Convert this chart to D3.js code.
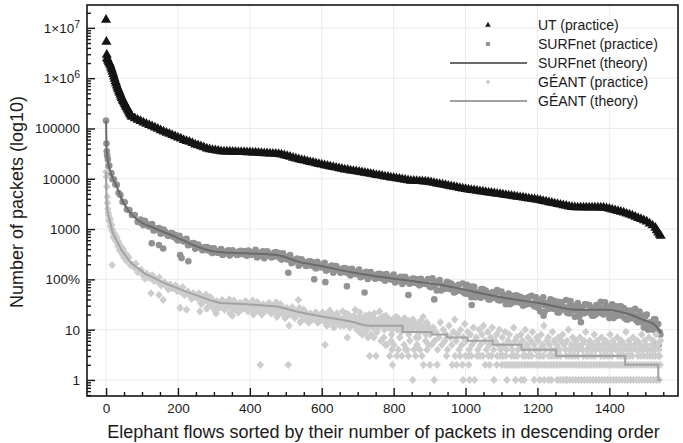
<!DOCTYPE html>
<html>
<head>
<meta charset="utf-8">
<script src="https://cdn.jsdelivr.net/npm/d3@7"></script>
<style>
  body { margin: 0; background: #fff; }
  text { font-family: "Liberation Sans", Arial, Helvetica, sans-serif; fill: #1a1a1a; }
</style>
</head>
<body>
<svg id="chart" width="683" height="443"></svg>
<script>
// ---- Axis ticks and labels ----
const xMajorTicks = [0, 200, 400, 600, 800, 1000, 1200, 1400];
const yMajorTicks = [1, 10, 100, 1000, 10000, 100000, 1000000, 10000000];
const yTickLabels = ["1", "10", "100%", "1000", "10000", "100000", "1×10^6", "1×10^7"];
const seriesNames = ["UT (practice)", "SURFnet (practice)", "SURFnet (theory)", "GÉANT (practice)", "GÉANT (theory)"];

// ---- UT (practice): [flow rank, packets] ----
const utPractice = [[0,14400000],[1,5300000],[2,2900000],[3,2500000],[4,2400000],[6,2200000],[8,2070000],[10,1960000],[12,1810000],[14,1630000],[16,1480000],[18,1330000],[20,1200000],[22,1080000],[24,970000],[26,870000],[28,790000],[30,710000],[32,650000],[34,600000],[36,550000],[38,510000],[40,470000],[42,430000],[44,400000],[46,370000],[48,350000],[50,330000],[52,310000],[54,290000],[56,270000],[58,260000],[60,240000],[62,230000],[64,215000],[66,200000],[68,190000],[70,180000],[72,170000],[80,159000],[88,149000],[96,140000],[104,131000],[112,124000],[120,117000],[128,110000],[136,104000],[144,98000],[152,92000],[160,87000],[168,82000],[176,78000],[184,74000],[192,70000],[200,66000],[208,63000],[216,59000],[224,56000],[232,54000],[240,51000],[248,48000],[256,46000],[264,44000],[272,42000],[280,40000],[288,38500],[296,37400],[304,36600],[312,35800],[320,35100],[328,34900],[336,34700],[344,34600],[352,34400],[360,34300],[368,34100],[376,34000],[384,33800],[392,33700],[400,33500],[408,33200],[416,33000],[424,32700],[432,32500],[440,32200],[448,32000],[456,31700],[464,31500],[472,31300],[480,31000],[488,30300],[496,29200],[504,28200],[512,27200],[520,26200],[528,25300],[536,24400],[544,23600],[552,22900],[560,22200],[568,21500],[576,20900],[584,20300],[592,19600],[600,19100],[608,18500],[616,18000],[624,17500],[632,17100],[640,16600],[648,16100],[656,15700],[664,15300],[672,15000],[680,14600],[688,14300],[696,14000],[704,13700],[712,13400],[720,13100],[728,12800],[736,12500],[744,12200],[752,11900],[760,11700],[768,11400],[776,11100],[784,10900],[792,10600],[800,10400],[808,10200],[816,9930],[824,9700],[832,9500],[840,9300],[848,9100],[856,9060],[864,9000],[872,8950],[880,8900],[888,8830],[896,8700],[904,8470],[912,8260],[920,8050],[928,7850],[936,7650],[944,7460],[952,7270],[960,7090],[968,6910],[976,6730],[984,6560],[992,6400],[1000,6230],[1008,6090],[1016,5980],[1024,5870],[1032,5750],[1040,5650],[1048,5540],[1056,5430],[1064,5330],[1072,5240],[1080,5140],[1088,5040],[1096,4940],[1104,4850],[1112,4750],[1120,4660],[1128,4570],[1136,4480],[1144,4390],[1152,4300],[1160,4210],[1168,4130],[1176,4050],[1184,3970],[1192,3890],[1200,3810],[1208,3710],[1216,3610],[1224,3510],[1232,3410],[1240,3320],[1248,3230],[1256,3140],[1264,3050],[1272,2970],[1280,2890],[1288,2810],[1296,2730],[1304,2700],[1312,2690],[1320,2690],[1328,2690],[1336,2680],[1344,2690],[1352,2680],[1360,2690],[1368,2680],[1376,2680],[1384,2680],[1392,2600],[1400,2520],[1408,2440],[1416,2360],[1424,2290],[1432,2210],[1440,2120],[1448,2020],[1456,1940],[1464,1850],[1472,1760],[1480,1660],[1488,1580],[1496,1490],[1504,1410],[1512,1290],[1520,1180],[1528,1060],[1532,940],[1536,850],[1540,780],[1543,730]];

// ---- SURFnet ----
const surfTheory = [[0,143000],[1,50000],[2,35000],[4,25000],[7,18700],[15,12000],[29,7200],[43,4000],[61,2400],[89,1500],[135,1040],[191,710],[256,440],[311,350],[391,330],[475,305],[540,220],[604,180],[679,140],[771,110],[864,90],[929,78],[1022,57],[1115,42],[1207,33.5],[1309,25],[1393,25],[1448,21],[1495,15.6],[1527,12.4],[1543,8.5]];

const surfPracticeHead = [[0,143000],[1,50000],[2,35000],[3,29000],[5,24300],[7,17900],[9,18400],[12,13200],[15,12900],[18,9800],[22,9700],[26,7700],[30,7600],[35,5200],[40,4750],[46,3500],[52,3400],[58,2440],[65,2400],[72,1900],[80,1910],[88,1390]];

const surfPracticeBand = [[96,1540],[104,1190],[112,1290],[120,1120],[128,1260],[136,951],[144,1030],[152,807],[160,979],[168,818],[176,733],[184,820],[192,766],[200,594],[208,644],[216,566],[224,638],[232,483],[240,522],[248,406],[256,491],[264,420],[272,384],[280,439],[288,418],[296,333],[304,371],[312,336],[320,399],[328,318],[336,363],[344,298],[352,379],[360,333],[368,313],[376,368],[384,361],[392,296],
[400,340],[408,308],[416,388],[424,286],[432,342],[440,262],[448,362],[456,305],[464,281],[472,348],[480,332],[488,247],[496,284],[504,249],[512,304],[520,218],[528,251],[536,187],[544,252],[552,208],[560,188],[568,229],[576,219],[584,165],[592,194],[600,172],[608,213],[616,155],[624,181],[632,136],[640,185],[648,152],[656,138],[664,167],[672,160],[680,120],[688,142],[696,127],[704,157],[712,115],[720,135],[728,102],[736,140],[744,116],[752,105],[760,129],[768,124],[776,94],[784,111],[792,99],[800,124],[808,91],[816,107],[824,81],[832,112],[840,93],[848,85],[856,104],[864,100],[872,76],[880,90],[888,81],[896,101],
[904,70],[912,90],[920,60],[928,97],[936,74],[944,65],[952,87],[960,83],[968,55],[976,70],[984,60],[992,83],[1000,52],[1008,67],[1016,44],[1024,71],[1032,54],[1040,47],[1048,64],[1056,60],[1064,40],[1072,51],[1080,43],[1088,61],[1096,38],[1104,49],[1112,32],[1120,52],[1128,40],[1136,35],[1144,47],[1152,45],[1160,30],[1168,39],[1176,33],[1184,47],[1192,29],[1200,38],[1208,23],[1216,44],[1224,31],[1232,26],[1240,39],[1248,37],[1256,22],[1264,31],[1272,25],[1280,39],[1288,21],[1296,30],[1304,18],[1312,34],[1320,24],[1328,21],[1336,32],[1344,31],[1352,19],[1360,27],[1368,22],[1376,36],[1384,20],[1392,29],[1400,17],[1408,32],[1416,22],[1424,19],[1432,29],[1440,27],[1448,16],[1456,21],[1464,17],[1472,26],[1480,14],[1488,19],[1496,11],[1504,20],[1512,13],[1520,11],[1528,16],[1536,13]];

const surfPracticeFill = [[100,1280],[108,1460],[116,1180],[124,1220],[132,940],[140,1020],[148,1050],[156,853],[164,889],[172,733],[180,830],[188,695],[196,638],[204,731],[212,592],[220,614],[228,476],[236,516],[244,528],[252,429],[260,451],[268,379],[276,440],[284,375],[292,353],[300,415],[308,345],[316,373],[324,306],[332,349],[340,378],[348,322],[356,353],[364,305],[372,364],[380,319],[388,309],[396,372],
[404,314],[412,355],[420,272],[428,324],[436,360],[444,291],[452,329],[460,272],[468,342],[476,285],[484,265],[492,330],[500,259],[508,283],[516,210],[524,243],[532,260],[540,205],[548,226],[556,184],[564,228],[572,188],[580,177],[588,223],[596,177],[604,197],[612,148],[620,174],[628,189],[636,150],[644,166],[652,135],[660,166],[668,137],[676,129],[684,163],[692,130],[700,145],[708,110],[716,129],[724,141],[732,113],[740,126],[748,103],[756,128],[764,106],[772,100],[780,127],[788,102],[796,114],[804,87],[812,102],[820,112],[828,90],[836,101],[844,82],[852,103],[860,86],[868,81],[876,103],[884,83],[892,93],
[900,72],[908,105],[916,76],[924,91],[932,60],[940,77],[948,89],[956,64],[964,75],[972,56],[980,78],[988,59],[996,54],[1004,78],[1012,56],[1020,66],[1028,44],[1036,56],[1044,64],[1052,46],[1060,55],[1068,40],[1076,56],[1084,43],[1092,39],[1100,57],[1108,41],[1116,48],[1124,32],[1132,41],[1140,48],[1148,35],[1156,41],[1164,31],[1172,43],[1180,33],[1188,31],[1196,44],[1204,31],[1212,40],[1220,23],[1228,33],[1236,40],[1244,26],[1252,33],[1260,22],[1268,35],[1276,25],[1284,22],[1292,37],[1300,24],[1308,30],[1316,18],[1324,26],[1332,32],[1340,22],[1348,28],[1356,19],[1364,31],[1372,22],[1380,21],[1388,35],[1396,23],[1404,29],[1412,17],[1420,24],[1428,29],[1436,19],[1444,24],[1452,16],[1460,24],[1468,17],[1476,15],[1484,23],[1492,15],[1500,18],[1508,10],[1516,14],[1524,16],[1532,10],[1540,9],[1542,8],
[1002,68],[1010,51],[1018,72],[1026,52],[1034,55],[1042,43],[1050,60],[1058,49],[1066,53],[1074,43],[1082,52],[1090,39],[1098,55],[1106,40],[1114,42],[1122,33],[1130,47],[1138,38],[1146,42],[1154,34],[1162,42],[1170,32],[1178,45],[1186,33],[1194,35],[1202,27],[1210,38],[1218,31],[1226,34],[1234,28],[1242,34],[1250,26],[1258,36],[1266,26],[1274,28],[1282,22],[1290,31],[1298,25],[1306,27],[1314,22],[1322,28],[1330,22],[1338,31],[1346,23],[1354,25],[1362,20],[1370,29],[1378,24],[1386,27],[1394,22],[1402,27],[1410,20],[1418,29],[1426,21],[1434,22],[1442,17],[1450,24],[1458,19],[1466,20],[1474,16],[1482,19],[1490,14],[1498,19],[1506,13],[1514,14],[1522,10],[1530,13],[1538,9]];

const surfPracticeOutliers = [[127,520],[147,480],[159,410],[206,305],[210,265],[229,230],[507,135],[579,100],[610,88],[670,73],[719,55],[841,49],[913,40],[1017,31],[1217,19],[1321,14],[1531,5],[1537,5]];

// ---- GÉANT ----
const geantTheory = [[0,14000],[1,4000],[3,2400],[7,1800],[19,830],[43,380],[70,210],[108,130],[163,84],[228,55],[252,48],[298,37],[317,34],[391,32],[447,30],[475,29],[493,27],[530,23],[570,20],[604,18],[625,17],[650,16],[670,15],[690,14],[705,13],[728,12],[825,12],[825,9],[906,9],[906,8],[948,8],[948,7],[1006,7],[1006,6],[1075,6],[1075,5],[1156,5],[1156,4],[1252,4],[1252,3],[1444,3],[1444,2],[1536,2],[1536,1],[1543,1]];

const geantPracticeHead = [[0,13800],[1,11000],[2,7000],[3,4400],[4,3300],[5,2500],[6,2100],[7,1880],[8,1500],[9,1440],[10,1660],[11,1520],[12,1135],[13,1170],[14,1200],[15,1230],[16,940],[17,193],[18,993],[19,869],[20,684],[21,710],[23,782],[24,809],[26,589],[27,611],[29,705],[30,637],[32,519],[33,458],[35,553],[36,500],[38,372],[39,394],[41,435],[42,451],[44,347],[45,317],[47,400],[48,356],[50,271],[51,291],[53,313],[54,327],[56,261],[57,232],[59,300],[60,274]];

const geantPracticeBand = [[63,269],[68,191],[73,202],[78,173],[83,205],[88,139],[93,150],[98,155],[103,121],[108,103],[113,131],[118,109],[123,110],[128,122],[133,93],[138,102],[143,90],[148,109],[153,76],[158,83],[163,88],[168,71],[173,63],[178,80],[183,67],[188,68],[193,76],[198,58],[203,65],[208,57],[213,70],[218,49],[223,54],[228,58],[233,47],[238,41],[243,53],[248,45],[253,44],[258,53],[263,34],[268,44],[273,37],[278,50],[283,28],[288,37],[293,42],[298,29],[303,24],[308,37],[313,29],[318,31],[323,39],[328,26],[333,34],[338,29],[343,40],[348,23],[353,32],[358,36],[363,26],[368,22],[373,34],[378,27],[383,29],[388,37],[393,24],[398,32],[403,27],[408,38],[413,22],[418,30],[423,34],[428,24],[433,20],[438,32],[443,25],[448,27],[453,34],[458,22],[463,29],[468,25],[473,35],[478,20],[483,27],[488,30],[493,21],[498,17],[503,27],[508,21],[513,23],[518,28],[523,18],[528,23],[533,20],[538,27],[543,15],[548,21],[553,23],[558,17],[563,14],[568,21],[573,16],[578,18],[583,22],[588,14],[593,19],[598,16],
[255,43],[260,50],[265,32],[270,36],[275,44],[280,26],[285,35],[290,44],[295,29],[300,35],[305,25],[310,35],[315,27],[320,31],[325,37],[330,25],[335,28],[340,35],[345,21],[350,29],[355,38],[360,25],[365,31],[370,23],[375,32],[380,26],[385,29],[390,35],[395,23],[400,26],[405,33],[410,20],[415,27],[420,35],[425,23],[430,29],[435,21],[440,30],[445,24],[450,27],[455,33],[460,21],[465,24],[470,31],[475,18],[480,25],[485,32],[490,21],[495,26],[500,18],[505,26],[510,20],[515,22],[520,26],[525,17],[530,19],[540,14],[545,19],[550,25],[555,16],[560,20],[565,14],[570,20],[575,16],[580,18],[585,21],[590,14],[595,15],[600,19],
[602,22],[606,15],[610,19],[614,12],[618,17],[622,24],[626,14],[630,18],[634,11],[638,16],[642,21],[646,13],[650,17],[654,15],[658,23],[662,12],[666,18],[670,14],[674,20],[678,11],[682,16],[686,13],[690,19],[694,15],[698,10],[702,17],[706,22],[710,12],[714,16],[718,14],[722,19],[726,10],[730,15],[734,13],[738,18],[742,11],[746,21],[750,14],[754,9],[758,16],[762,12],[766,17],[770,13],[774,10],[778,19],[782,15],[786,11],[790,14],[794,8],[798,16],[802,12],[806,18],[810,10],[814,13],[818,15],[822,9],[826,12],[830,17],[834,11],[838,14],[842,8],[846,13],[850,10],[854,16],[858,12],[862,7],[866,11],[870,14],[874,9],[878,12],[882,18],[886,10],[890,8],[894,13],[898,11],
[604,16],[612,20],[620,13],[628,21],[636,15],[644,18],[652,12],[660,16],[668,21],[676,13],[684,17],[692,12],[700,14],[708,18],[716,11],[724,15],[732,20],[740,12],[748,16],[756,11],[764,14],[772,18],[780,12],[788,16],[796,10],[804,14],[812,17],[820,11],[828,14],[836,10],[844,15],[852,11],[860,13],[868,9],[876,15],[884,11],[892,14],[900,10],
[705,9],[713,8],[721,9],[729,7],[737,8],[745,7],[753,9],[765,6],[773,7],[781,5],[793,6],[801,5],[813,4],[817,7],[829,5],[837,4],[845,6],[857,4],[865,5],[869,7],[873,4],[889,6],[893,4],[897,5],
[902,8],[906,5],[910,11],[914,6],[918,9],[922,4],[926,7],[930,14],[934,5],[938,10],[942,6],[946,8],[950,4],[954,12],[958,7],[962,5],[966,9],[970,16],[974,6],[978,8],[982,4],[986,10],[990,5],[994,7],[998,13],[1002,6],[1006,9],[1010,4],[1014,8],[1018,5],[1022,11],[1026,6],[1030,7],[1034,4],[1038,10],[1042,5],[1046,8],[1050,12],[1054,6],[1058,4],[1062,9],[1066,5],[1070,7],[1074,11],[1078,4],[1082,6],[1086,8],[1090,5],[1094,10],[1098,4],
[1102,7],[1106,5],[1110,9],[1114,4],[1118,6],[1122,8],[1126,5],[1130,4],[1134,11],[1138,6],[1142,7],[1146,4],[1150,5],[1154,8],[1158,6],[1162,4],[1166,10],[1170,5],[1174,7],[1178,4],[1182,6],[1186,9],[1190,5],[1194,4],[1198,7],[1202,6],[1206,4],[1210,8],[1214,5],[1218,12],[1222,4],[1226,6],[1230,7],[1234,5],[1238,4],[1242,9],[1246,6],[1250,4],[1254,5],[1258,7],[1262,4],[1266,6],[1270,8],[1274,5],[1278,4],[1282,6],[1286,10],[1290,4],[1294,5],[1298,7],
[1302,4],[1306,6],[1310,5],[1314,4],[1318,7],[1322,5],[1326,4],[1330,6],[1334,9],[1338,4],[1342,5],[1346,6],[1350,4],[1354,5],[1358,8],[1362,4],[1366,6],[1370,5],[1374,4],[1378,7],[1382,5],[1386,4],[1390,6],[1394,4],[1398,5],[1402,8],[1406,4],[1410,6],[1414,5],[1418,4],[1422,7],[1426,5],[1430,4],[1434,6],[1438,4],[1442,5],[1446,9],[1450,4],[1454,6],[1458,5],[1462,4],[1466,7],[1470,5],[1474,4],[1478,6],[1482,4],[1486,5],[1490,8],[1494,4],[1498,6],[1502,5],[1506,4],[1510,7],[1514,4],[1518,5],[1522,6],[1526,4],[1530,8],[1534,5],[1538,4],[1542,6]];

const geantPracticeTail = [[125,53],[147,49],[159,39],[206,27],[224,25],[261,23],[306,21],[351,19],[429,2],[507,2],[509,12],[535,39],[609,5],[671,7],[693,25],[761,23],[777,5],[795,4],[797,2],[833,4],[883,2],[901,2],[921,2]];

// flows holding exactly 3, 2 and 1 packets
const geantThrees = [733,751,789,809,823,841,861,879,947,971,985,1000,1008,1016,1032,1040,1048,1064,1072,1088,1096,1104,1112,1128,1136,1144,1160,1168,1176,1184,1200,1208,1216,1232,1240,1248,1256,1264,1280,1288,1296,1304,1312,1328,1336,1344,1352,1360,1376,1384,1392,1400,1408,1424,1432,1440,1448,1456,1464,1480,1488,1496,1504,1512,1520,1528,1536,1540];
const geantTwos = [963,975,991,1009,1055,1067,1087,1101,1109,1117,1125,1133,1141,1149,1157,1165,1173,1181,1189,1197,1205,1213,1221,1229,1237,1245,1253,1261,1269,1277,1285,1293,1301,1309,1317,1325,1333,1341,1349,1357,1365,1373,1381,1389,1397,1405,1413,1421,1429,1437,1445,1453,1461,1469,1477,1485,1493,1501,1509,1517,1525,1533,1541];
const geantOnes = [853,913,993,1011,1025,1079,1115,1139,1155,1163,1191,1207,1219,1231,1239,1255,1263,1271,1279,1283,1291,1299,1307,1315,1323,1331,1339,1347,1355,1363,1371,1379,1387,1395,1403,1411,1419,1427,1435,1443,1451,1459,1467,1475,1483,1491,1499,1507,1515,1523,1531,1539];

// ---- Layout ----
const plot = { left: 87, right: 678, top: 5, bottom: 396 };
const colors = { ut: "#141414", surf: "#929292", surfLine: "#6a6a6a", geant: "#cdcdcd", geantLine: "#a2a2a2", grid: "#ececec", axis: "#151515" };

const svg = d3.select("#chart");
const x = d3.scaleLinear().domain([-53, 1591]).range([plot.left, plot.right]);
const y = d3.scaleLog().domain([0.48, 2.85e7]).range([plot.bottom, plot.top]);

// grid
const grid = svg.append("g");
grid.selectAll("line.gx").data(xMajorTicks).join("line")
  .attr("x1", d => x(d)).attr("x2", d => x(d))
  .attr("y1", plot.top).attr("y2", plot.bottom)
  .attr("stroke", colors.grid).attr("stroke-width", 1);
grid.selectAll("line.gy").data(yMajorTicks).join("line")
  .attr("x1", plot.left).attr("x2", plot.right)
  .attr("y1", d => y(d)).attr("y2", d => y(d))
  .attr("stroke", colors.grid).attr("stroke-width", 1);

// marks
const marks = svg.append("g");
const triangle = d3.symbol().type(d3.symbolTriangle).size(44)();
const diamond = "M0,-4.1L3.8,0L0,4.1L-3.8,0Z";

const geantPractice = geantPracticeHead.concat(geantPracticeBand, geantPracticeTail,
  geantThrees.map(f => [f, 3]), geantTwos.map(f => [f, 2]), geantOnes.map(f => [f, 1]));
const surfPractice = surfPracticeHead.concat(surfPracticeBand, surfPracticeFill, surfPracticeOutliers);

marks.append("g").selectAll("path").data(utPractice).join("path")
  .attr("d", triangle)
  .attr("transform", d => `translate(${x(d[0])},${y(d[1])})`)
  .attr("fill", colors.ut);

marks.append("g").selectAll("circle").data(surfPractice).join("circle")
  .attr("cx", d => x(d[0])).attr("cy", d => y(d[1])).attr("r", 3.3)
  .attr("fill", colors.surf);

marks.append("path").datum(surfTheory)
  .attr("d", d3.line().x(d => x(d[0])).y(d => y(d[1])).curve(d3.curveMonotoneX))
  .attr("fill", "none").attr("stroke", colors.surfLine).attr("stroke-width", 2);

marks.append("g").selectAll("path").data(geantPractice).join("path")
  .attr("d", diamond)
  .attr("transform", d => `translate(${x(d[0])},${y(d[1])})`)
  .attr("fill", colors.geant);

marks.append("path").datum(geantTheory)
  .attr("d", d3.line().x(d => x(d[0])).y(d => y(d[1])))
  .attr("fill", "none").attr("stroke", colors.geantLine).attr("stroke-width", 2);

// axes: inward ticks
const xMinor = d3.range(50, 1600, 50).filter(v => v % 200 !== 0);
const xAxis = svg.append("g").attr("transform", `translate(0,${plot.bottom})`);
xAxis.call(d3.axisBottom(x).tickValues(xMajorTicks).tickSize(-8).tickPadding(7).tickFormat(d3.format("d")));
xAxis.append("g").call(d3.axisBottom(x).tickValues(xMinor).tickSize(-4).tickFormat(""));
xAxis.selectAll(".domain").remove();
xAxis.selectAll("line").attr("stroke", colors.axis).attr("stroke-width", 1.4);
xAxis.selectAll("text").attr("font-size", 13.5).attr("fill", "#1a1a1a")
  .attr("font-family", '"Liberation Sans", Arial, sans-serif');

const yMinor = [];
[-1, 0, 1, 2, 3, 4, 5, 6, 7].forEach(e => { for (let m = 2; m <= 9; m++) { const v = m * Math.pow(10, e); if (v >= 0.48 && v <= 2.85e7) yMinor.push(v); } });
const yAxis = svg.append("g").attr("transform", `translate(${plot.left},0)`);
yAxis.call(d3.axisLeft(y).tickValues(yMajorTicks).tickSize(-8).tickFormat(""));
yAxis.append("g").call(d3.axisLeft(y).tickValues(yMinor).tickSize(-4).tickFormat(""));
yAxis.selectAll(".domain").remove();
yAxis.selectAll("line").attr("stroke", colors.axis).attr("stroke-width", 1.4);

// y tick labels, with superscript exponents
const yLabels = svg.append("g").attr("font-size", 13.5).attr("text-anchor", "end");
yMajorTicks.forEach((v, i) => {
  const parts = yTickLabels[i].split("^");
  const t = yLabels.append("text").attr("x", plot.left - 7).attr("y", y(v)).attr("dy", "0.36em");
  t.append("tspan").text(parts[0]);
  if (parts[1]) t.append("tspan").attr("dy", "-0.45em").attr("font-size", 10.5).text(parts[1]);
});

// frame
svg.append("rect").attr("x", plot.left).attr("y", plot.top)
  .attr("width", plot.right - plot.left).attr("height", plot.bottom - plot.top)
  .attr("fill", "none").attr("stroke", colors.axis).attr("stroke-width", 1.6);

// axis titles
svg.append("text").attr("x", (plot.left + plot.right) / 2 + 1).attr("y", 432).attr("dy", "0.35em")
  .attr("text-anchor", "middle").attr("font-size", 18)
  .text("Elephant flows sorted by their number of packets in descending order");
svg.append("text").attr("transform", "translate(17,202) rotate(-90)").attr("dy", "0.35em")
  .attr("text-anchor", "middle").attr("font-size", 18)
  .text("Number of packets (log10)");

// legend
const legend = svg.append("g").attr("font-size", 14);
const legendRows = [25, 44, 63, 82, 101];
const lx = 488, textX = 538;
legend.append("path").attr("d", d3.symbol().type(d3.symbolTriangle).size(14)())
  .attr("transform", `translate(${lx},${legendRows[0]})`).attr("fill", colors.ut);
legend.append("circle").attr("cx", lx).attr("cy", legendRows[1]).attr("r", 2.3).attr("fill", colors.surf);
legend.append("line").attr("x1", 450).attr("x2", 527).attr("y1", legendRows[2]).attr("y2", legendRows[2])
  .attr("stroke", colors.surfLine).attr("stroke-width", 2);
legend.append("path").attr("d", "M0,-2.6L2.4,0L0,2.6L-2.4,0Z")
  .attr("transform", `translate(${lx},${legendRows[3]})`).attr("fill", colors.geant);
legend.append("line").attr("x1", 450).attr("x2", 527).attr("y1", legendRows[4]).attr("y2", legendRows[4])
  .attr("stroke", colors.geantLine).attr("stroke-width", 2);
seriesNames.forEach((name, i) => {
  legend.append("text").attr("x", textX).attr("y", legendRows[i]).attr("dy", "0.35em").text(name);
});
</script>
</body>
</html>
